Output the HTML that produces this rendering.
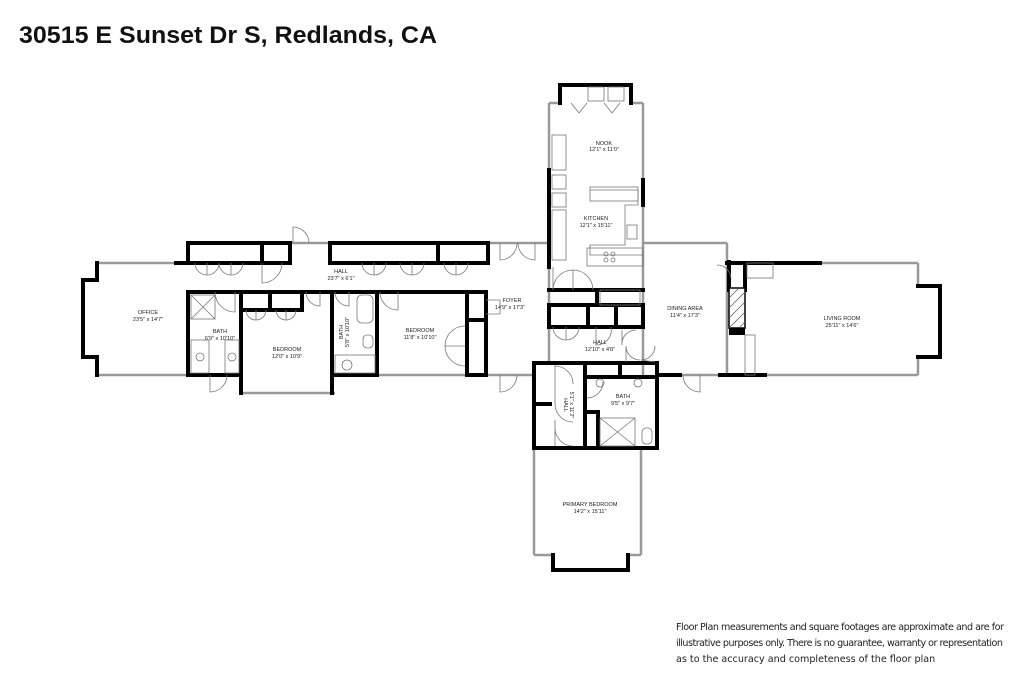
<!DOCTYPE html>
<html><head><meta charset="utf-8"><style>
html,body{margin:0;padding:0;background:#fff;width:1024px;height:683px;overflow:hidden}
svg{display:block}
.w{stroke:#000;stroke-width:4;fill:none;stroke-linecap:square}
.g{stroke:#999;stroke-width:2.5;fill:none}
.t{stroke:#777;stroke-width:0.8;fill:none}
.l{font-family:"Liberation Sans",sans-serif;font-size:5.5px;fill:#222;text-anchor:middle}
</style></head><body>
<svg width="1024" height="683" viewBox="0 0 1024 683" xmlns="http://www.w3.org/2000/svg">
<text x="19" y="43" font-family="Liberation Sans, sans-serif" font-weight="bold" font-size="24" textLength="418" lengthAdjust="spacingAndGlyphs" fill="#111">30515 E Sunset Dr S, Redlands, CA</text>

<!-- windows (gray) -->
<g class="g">
<line x1="97" y1="263" x2="176" y2="263"/>
<line x1="290" y1="243" x2="330" y2="243"/>
<line x1="488" y1="243" x2="549" y2="243"/>
<line x1="97" y1="375" x2="188" y2="375"/>
<line x1="241" y1="393" x2="335" y2="393"/>
<line x1="377" y1="375" x2="467" y2="375"/>
<line x1="486" y1="375" x2="534" y2="375"/>
<line x1="680" y1="375" x2="720" y2="375"/>
<line x1="765" y1="375" x2="918" y2="375"/>
<line x1="820" y1="263" x2="918" y2="263"/>
<line x1="643" y1="243" x2="727" y2="243"/>
<line x1="727" y1="243" x2="727" y2="263"/>
<line x1="549" y1="103" x2="549" y2="170"/>
<line x1="643" y1="103" x2="643" y2="180"/>
<line x1="643" y1="205" x2="643" y2="242"/>
<line x1="534" y1="448" x2="534" y2="555"/>
<line x1="641" y1="448" x2="641" y2="555"/>
<line x1="534" y1="555" x2="553" y2="555"/>
<line x1="628" y1="555" x2="641" y2="555"/>
<line x1="549" y1="103" x2="560" y2="103"/>
<line x1="631" y1="103" x2="643" y2="103"/>
<line x1="727" y1="263" x2="727" y2="375"/>
<line x1="643" y1="242" x2="643" y2="375"/>
<line x1="549" y1="267" x2="549" y2="363"/>
<line x1="918" y1="263" x2="918" y2="286"/>
<line x1="918" y1="357" x2="918" y2="375"/>
</g>

<!-- walls -->
<g class="w">
<polyline points="97,263 97,280 83,280 83,357 97,357 97,375"/>
<line x1="176" y1="263" x2="190" y2="263"/>
<rect x="188" y="243" width="102" height="20"/>
<line x1="262" y1="243" x2="262" y2="263"/>
<rect x="330" y="243" width="158" height="20"/>
<line x1="438" y1="243" x2="438" y2="263"/>
<line x1="188" y1="292" x2="486" y2="292"/>
<line x1="188" y1="292" x2="188" y2="375"/>
<line x1="241" y1="292" x2="241" y2="393"/>
<line x1="332" y1="292" x2="332" y2="393"/>
<line x1="377" y1="292" x2="377" y2="375"/>
<line x1="467" y1="292" x2="467" y2="375"/>
<line x1="486" y1="292" x2="486" y2="375"/>
<line x1="467" y1="320" x2="486" y2="320"/>
<line x1="188" y1="375" x2="241" y2="375"/>
<line x1="332" y1="375" x2="377" y2="375"/>
<line x1="467" y1="375" x2="486" y2="375"/>
<line x1="270" y1="292" x2="270" y2="310"/>
<line x1="241" y1="310" x2="302" y2="310"/>
<line x1="302" y1="292" x2="302" y2="310"/>
<line x1="549" y1="170" x2="549" y2="267"/>
<line x1="643" y1="180" x2="643" y2="205"/>
<polyline points="560,103 560,85 631,85 631,103"/>
<line x1="549" y1="290" x2="643" y2="290"/>
<rect x="549" y="305" width="94" height="22"/>
<line x1="588" y1="305" x2="588" y2="327"/>
<line x1="616" y1="305" x2="616" y2="327"/>
<line x1="597" y1="290" x2="597" y2="305"/>
<rect x="534" y="363" width="123" height="85"/>
<line x1="585" y1="363" x2="585" y2="448"/>
<line x1="534" y1="404" x2="550" y2="404"/>
<line x1="585" y1="377" x2="657" y2="377"/>
<line x1="620" y1="363" x2="620" y2="377"/>
<line x1="585" y1="412" x2="598" y2="412"/>
<line x1="598" y1="412" x2="598" y2="448"/>
<line x1="657" y1="375" x2="680" y2="375"/>
<line x1="720" y1="375" x2="765" y2="375"/>
<line x1="727" y1="263" x2="820" y2="263"/>
<polyline points="918,286 940,286 940,357 918,357"/>
<polyline points="553,555 553,570 628,570 628,555"/>
<line x1="729" y1="262" x2="729" y2="290"/>
<line x1="745" y1="266" x2="745" y2="290"/>
</g>
<!-- fireplace -->
<rect x="729" y="288" width="16" height="40" fill="#fff" stroke="#000" stroke-width="1.5"/>
<g stroke="#555" stroke-width="0.7"><line x1="729" y1="298" x2="739" y2="288"/><line x1="729" y1="308" x2="745" y2="292"/><line x1="729" y1="318" x2="745" y2="302"/><line x1="729" y1="328" x2="745" y2="312"/><line x1="739" y1="328" x2="745" y2="322"/></g>
<rect x="729" y="328" width="16" height="7" fill="#000"/>

<!-- fixtures & doors (thin) -->
<g class="t">
<path d="M293,243 L293,227 A16,16 0 0 1 309,243"/>
<path d="M195,263 A12,12 0 0 0 207,275 L207,263 M219,263 A12,12 0 0 1 207,275 M219,263 A12,12 0 0 0 231,275 L231,263 M243,263 A12,12 0 0 1 231,275 M262,263 L262,283 A20,20 0 0 0 282,263"/>
<path d="M362,263 A12,12 0 0 0 374,275 L374,263 M386,263 A12,12 0 0 1 374,275 M400,263 A12,12 0 0 0 412,275 L412,263 M424,263 A12,12 0 0 1 412,275 M444,263 A12,12 0 0 0 456,275 L456,263 M468,263 A12,12 0 0 1 456,275"/>
<path d="M500,243 L500,260 A17,17 0 0 0 517,243 M535,243 L535,260 A17,17 0 0 1 518,243"/>
<rect x="191" y="295" width="24" height="24"/><path d="M191,295 L215,319 M215,295 L191,319"/>
<rect x="191" y="340" width="18" height="33"/><rect x="225" y="340" width="14" height="33"/>
<circle cx="200" cy="357" r="4"/><circle cx="232" cy="357" r="4"/>
<path d="M215,292 A20,20 0 0 0 235,312 L235,292"/>
<path d="M246,310 A10,10 0 0 0 256,320 L256,310 M266,310 A10,10 0 0 1 256,320 M276,310 A10,10 0 0 0 286,320 L286,310 M296,310 A10,10 0 0 1 286,320"/>
<path d="M306,292 A14,14 0 0 0 320,306 L320,292"/>
<path d="M335,292 A14,14 0 0 0 349,306 L349,292"/>
<rect x="357" y="295" width="16" height="28" rx="5"/><rect x="363" y="335" width="10" height="13" rx="4"/>
<circle cx="347" cy="365" r="5"/><rect x="335" y="355" width="40" height="18"/>
<path d="M380,292 A18,18 0 0 0 398,310 L398,292"/>
<path d="M465,326 A20,20 0 0 0 445,346 L465,346 M465,366 A20,20 0 0 1 445,346"/>
<path d="M486,300 L500,300 L500,314 L486,314"/>
<path d="M500,375 L500,392 A17,17 0 0 0 517,375"/>
<path d="M210,375 L210,392 A17,17 0 0 0 227,375"/>
<rect x="552" y="135" width="14" height="35"/><rect x="552" y="175" width="14" height="14"/><rect x="552" y="193" width="14" height="14"/><rect x="552" y="210" width="14" height="50"/>
<path d="M590,190 L638,190 L638,205 L625,205 L625,245 L590,245 L590,255 L643,255"/>
<rect x="590" y="187" width="48" height="14"/><rect x="587" y="248" width="56" height="18"/>
<circle cx="606" cy="254" r="2"/><circle cx="613" cy="254" r="2"/><circle cx="606" cy="260" r="2"/><circle cx="613" cy="260" r="2"/>
<rect x="627" y="225" width="10" height="14"/>
<path d="M571,103 L579,113 L587,103 M604,103 L612,113 L620,103"/>
<rect x="588" y="87" width="16" height="14"/><rect x="608" y="87" width="16" height="14"/>
<path d="M553,267 L553,290 M553,290 A20,20 0 0 1 573,270 L573,290 M593,290 A20,20 0 0 0 573,270"/>
<rect x="600" y="290" width="40" height="15"/>
<path d="M553,327 A13,13 0 0 0 566,340 L566,327 M579,327 A13,13 0 0 1 566,340 M596,327 L596,345 A15,15 0 0 0 611,327 M622,330 L622,345 A14,14 0 0 1 636,330"/>
<path d="M626,346 L626,362 M626,346 A14,14 0 0 0 640,360 M655,346 A14,14 0 0 1 641,360 L655,362"/>
<path d="M555,365 L555,404 M555,366 A18,18 0 0 1 573,384 M555,404 A18,18 0 0 0 573,422 M555,420 L555,446 M573,446 A18,18 0 0 1 555,428"/>
<circle cx="600" cy="383" r="4"/><circle cx="638" cy="383" r="4"/>
<path d="M587,398 A16,16 0 0 0 603,382"/>
<rect x="600" y="418" width="35" height="28"/><path d="M600,418 L635,446 M635,418 L600,446"/>
<rect x="642" y="428" width="10" height="16" rx="4"/>
<path d="M700,375 L700,392 A17,17 0 0 1 683,375"/>
<path d="M717,265 A14,14 0 0 1 731,279"/><rect x="747" y="263" width="26" height="15"/><rect x="745" y="335" width="10" height="40"/>
</g>

<!-- labels -->
<g class="l">
<text x="604" y="145">NOOK</text><text x="604" y="151">12'1" x 11'0"</text>
<text x="596" y="220">KITCHEN</text><text x="596" y="227">12'1" x 15'11"</text>
<text x="148" y="314">OFFICE</text><text x="148" y="321">23'5" x 14'7"</text>
<text x="220" y="333">BATH</text><text x="220" y="340">6'9" x 10'10"</text>
<text x="287" y="351">BEDROOM</text><text x="287" y="358">12'0" x 10'9"</text>
<text transform="translate(343,332) rotate(-90)">BATH</text><text transform="translate(349,332) rotate(-90)">5'8" x 10'10"</text>
<text x="420" y="332">BEDROOM</text><text x="420" y="339">11'8" x 10'10"</text>
<text x="341" y="273">HALL</text><text x="341" y="280">23'7" x 6'1"</text>
<text x="512" y="302">FOYER</text><text x="510" y="309">14'9" x 17'3"</text>
<text x="685" y="310">DINING AREA</text><text x="685" y="317">11'4" x 17'3"</text>
<text x="842" y="320">LIVING ROOM</text><text x="842" y="327">25'11" x 14'6"</text>
<text x="600" y="344">HALL</text><text x="600" y="351">12'10" x 4'8"</text>
<text x="623" y="398">BATH</text><text x="623" y="405">9'5" x 9'7"</text>
<text transform="translate(564,405) rotate(90)">HALL</text><text transform="translate(570,405) rotate(90)">5'1" x 11'2"</text>
<text x="590" y="506">PRIMARY BEDROOM</text><text x="590" y="513">14'2" x 15'11"</text>
</g>

<g font-family="DejaVu Sans, sans-serif" font-size="9.6" fill="#222">
<text x="676" y="630" textLength="328">Floor Plan measurements and square footages are approximate and are for</text>
<text x="676" y="646" textLength="327">illustrative purposes only. There is no guarantee, warranty or representation</text>
<text x="676" y="662">as to the accuracy and completeness of the floor plan</text>
</g>
</svg>
</body></html>
